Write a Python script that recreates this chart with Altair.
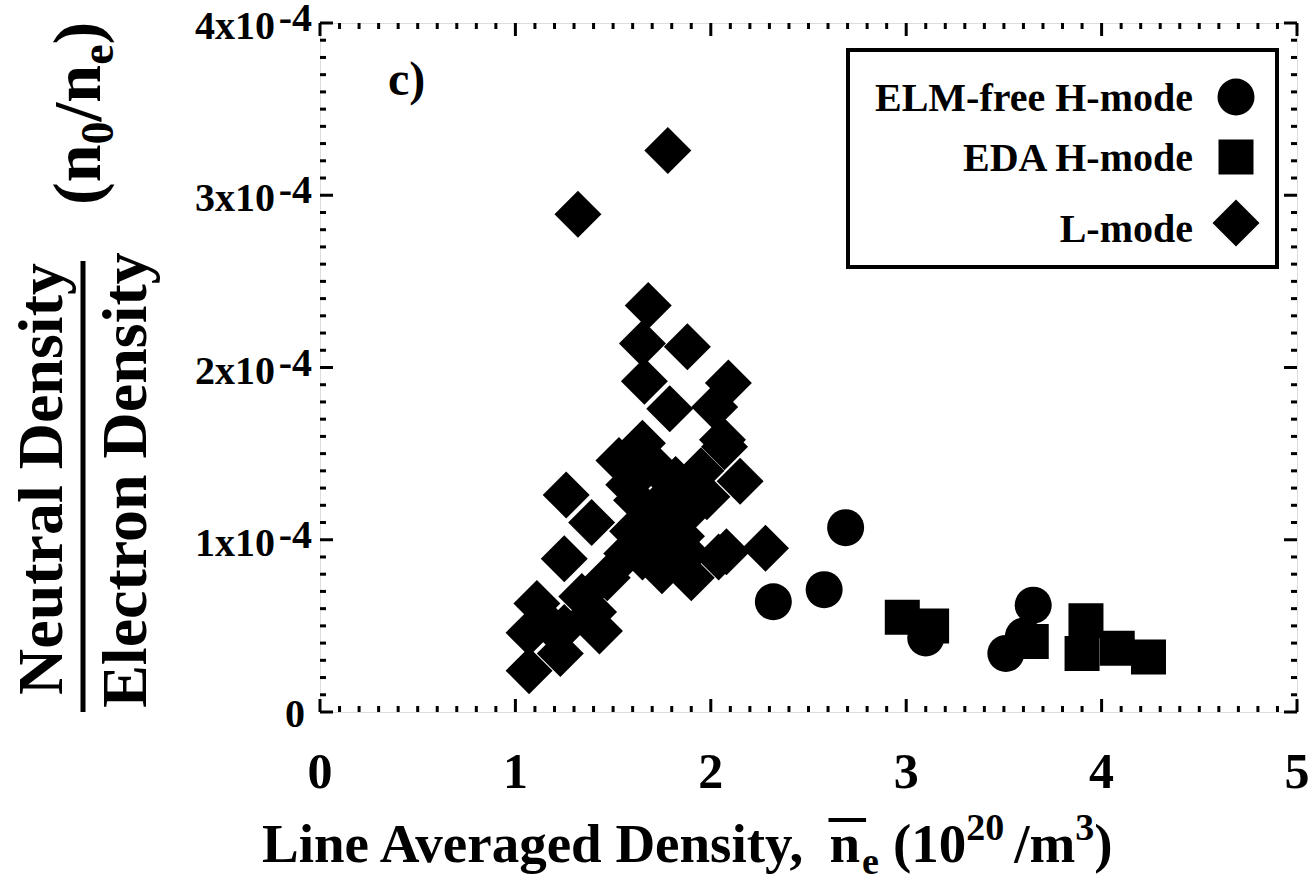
import altair as alt
import pandas as pd

FONT = "Liberation Serif"
W, H = 977, 689
X0, Y0 = 320, 23  # page offset of the plot area

# ---------------- data (y in units of 1e-4) ----------------
categories = ["ELM-free H-mode", "EDA H-mode", "L-mode"]
shapes = ["circle", "square", "diamond"]
sizes = [1369, 1225, 2209]

elm_x = [2.32, 2.58, 2.69, 3.10, 3.51, 3.60, 3.65]
elm_y = [0.64, 0.71, 1.07, 0.43, 0.34, 0.44, 0.62]

eda_x = [2.98, 3.13, 3.64, 3.90, 3.92, 4.08, 4.24]
eda_y = [0.55, 0.50, 0.41, 0.34, 0.53, 0.37, 0.32]

l_x = [1.32, 1.78, 1.68, 1.65, 1.88, 1.66, 2.09, 1.79, 2.02, 2.06, 1.65, 1.53,
       1.26, 1.39, 1.25, 1.11, 1.07, 1.07, 1.23, 1.25, 1.43, 1.34, 1.47, 1.57,
       1.62, 1.75, 1.90, 2.28, 2.08, 2.04, 2.15, 2.07, 1.65, 1.72, 1.80, 1.90,
       1.70, 1.85, 1.95, 1.75, 1.60, 1.40, 1.18, 1.98, 1.82, 1.92, 1.78, 1.68,
       1.88, 1.58]
l_y = [2.89, 3.26, 2.36, 2.14, 2.12, 1.92, 1.91, 1.76, 1.77, 1.58, 1.56, 1.46,
       1.26, 1.10, 0.89, 0.63, 0.46, 0.24, 0.34, 0.49, 0.47, 0.67, 0.78, 0.92,
       1.23, 0.82, 0.78, 0.95, 0.93, 0.90, 1.34, 1.54, 0.90, 1.42, 1.28, 1.18,
       1.10, 1.02, 1.40, 1.00, 1.05, 0.58, 0.50, 1.25, 1.35, 1.22, 1.18, 1.00,
       0.92, 1.32]

x_major = [0, 1, 2, 3, 4, 5]
x_tick_labels = ["0", "1", "2", "3", "4", "5"]
x_minor = [i / 10 for i in range(51) if i % 10]
y_major = [0, 1, 2, 3, 4]
y_minor = [i / 10 for i in range(41) if i % 10]
y_tick_base = ["0", "1x10", "2x10", "3x10", "4x10"]
y_tick_sup = ["", "-4", "-4", "-4", "-4"]

rows = []
for x, y in zip(l_x, l_y):
    rows.append({"x": x, "y": y, "mode": "L-mode"})
for x, y in zip(elm_x, elm_y):
    rows.append({"x": x, "y": y, "mode": "ELM-free H-mode"})
for x, y in zip(eda_x, eda_y):
    rows.append({"x": x, "y": y, "mode": "EDA H-mode"})
df = pd.DataFrame(rows)
df["order"] = range(len(df))

xs = alt.Scale(domain=[0, 5], nice=False, zero=False)
ys = alt.Scale(domain=[0, 4], nice=False, zero=False)

points = alt.Chart(df).mark_point(filled=True, color="black", opacity=1, strokeWidth=0).encode(
    x=alt.X("x:Q", scale=xs, axis=None),
    y=alt.Y("y:Q", scale=ys, axis=None),
    shape=alt.Shape("mode:N", scale=alt.Scale(domain=categories, range=shapes), legend=None),
    size=alt.Size("mode:N", scale=alt.Scale(type="ordinal", domain=categories, range=sizes), legend=None),
    order=alt.Order("order:Q"),
)

one = alt.Data(values=[{}])

def txt(text, x, y, size, **kw):
    return alt.Chart(one).mark_text(text=text, font=FONT, fontWeight="bold", fontSize=size,
                                    color="black", baseline="alphabetic", **kw).encode(
        x=alt.value(x), y=alt.value(y))

# ---------------- legend (drawn by hand, inside a framed box) ----------------
box = alt.Chart(one).mark_rect(fill="white", stroke="black", strokeWidth=4).encode(
    x=alt.value(848 - X0), x2=alt.value(1277 - X0), y=alt.value(50 - Y0), y2=alt.value(267 - Y0))
legend_layers = [box]
leg_text_y = [111, 171, 242]
leg_sym_y = [97, 157, 223]
for lab, shp, sz, ty, sy in zip(categories, shapes, sizes, leg_text_y, leg_sym_y):
    legend_layers.append(txt(lab, 1193 - X0, ty - Y0, 40, align="right"))
    legend_layers.append(
        alt.Chart(one).mark_point(filled=True, color="black", opacity=1, strokeWidth=0,
                                  shape=shp, size=sz).encode(
            x=alt.value(1236 - X0), y=alt.value(sy - Y0)))

# ---------------- inward ticks on all four sides ----------------
def xt(vals, y0, y1, sw):
    return alt.Chart(pd.DataFrame({"v": vals})).mark_rule(color="black", strokeWidth=sw).encode(
        x=alt.X("v:Q", scale=xs, axis=None), y=alt.value(y0), y2=alt.value(y1))

def yt(vals, x0, x1, sw):
    return alt.Chart(pd.DataFrame({"v": vals})).mark_rule(color="black", strokeWidth=sw).encode(
        y=alt.Y("v:Q", scale=ys, axis=None), x=alt.value(x0), x2=alt.value(x1))

MAJ, MIN = 13, 6
ticks = [
    xt(x_major, H, H - MAJ, 3), xt(x_minor, H, H - MIN, 3),
    xt(x_major, 0, MAJ, 3), xt(x_minor, 0, MIN, 3),
    yt(y_major, 0, MAJ, 3), yt(y_minor, 0, MIN, 3),
    yt(y_major, W, W - MAJ, 3), yt(y_minor, W, W - MIN, 3),
]

# ---------------- tick labels ----------------
xlab = pd.DataFrame({"v": x_major, "t": x_tick_labels})
xlab_layer = alt.Chart(xlab).mark_text(font=FONT, fontWeight="bold", fontSize=50, color="black",
                                       align="center", baseline="alphabetic").encode(
    x=alt.X("v:Q", scale=xs, axis=None), y=alt.value(788 - Y0), text="t:N")

ylab = pd.DataFrame({"v": y_major, "base": y_tick_base, "sup": y_tick_sup})
ylab_zero = alt.Chart(ylab[ylab["sup"] == ""]).mark_text(
    font=FONT, fontWeight="bold", fontSize=40, color="black", align="right", baseline="middle", dy=3).encode(
    y=alt.Y("v:Q", scale=ys, axis=None), x=alt.value(-15), text="base:N")
ylab_base = alt.Chart(ylab[ylab["sup"] != ""]).mark_text(
    font=FONT, fontWeight="bold", fontSize=40, color="black", align="right", baseline="middle", dy=4).encode(
    y=alt.Y("v:Q", scale=ys, axis=None), x=alt.value(-45), text="base:N")
ylab_sup = alt.Chart(ylab[ylab["sup"] != ""]).mark_text(
    font=FONT, fontWeight="bold", fontSize=40, color="black", align="right", baseline="middle", dy=-4).encode(
    y=alt.Y("v:Q", scale=ys, axis=None), x=alt.value(-8), text="sup:N")

TW = {'L': .667, 'i': .278, 'n': .556, 'e': .444, ' ': .25, 'A': .722, 'v': .5, 'r': .444,
      'a': .5, 'g': .5, 'd': .556, 'D': .722, 's': .389, 't': .333, 'y': .5, ',': .25,
      '(': .333, ')': .333, '1': .5, '0': .5, '2': .5, '/': .278, 'm': .833, '3': .5,
      'N': .722, 'u': .556, 'l': .278, 'E': .667, 'c': .444, 'o': .5}

def tw(s, size):
    return sum(TW[c] for c in s) * size

# ---------------- x title: Line Averaged Density,  n̄e (10^20 /m^3) ----------------
S, s = 55, 38
bx = 262 - X0
by = 862 - Y0
xt_layers = []
cur = bx
xt_layers.append(txt("Line Averaged Density,", cur, by, S, align="left"))
cur += tw("Line Averaged Density,", S) + 16
n_start = cur
xt_layers.append(txt("n", cur, by, S, align="left"))
cur += tw("n", S) + 2
n_end = cur
xt_layers.append(txt("e", cur, by + 12, s, align="left"))
cur += tw("e", s)
cur += 14
xt_layers.append(txt("(10", cur, by, S, align="left"))
cur += tw("(10", S)
xt_layers.append(txt("20", cur, by - 22, s, align="left"))
cur += tw("20", s) + 10
xt_layers.append(txt("/m", cur, by, S, align="left"))
cur += tw("/m", S)
xt_layers.append(txt("3", cur, by - 22, s, align="left"))
cur += tw("3", s)
xt_layers.append(txt(")", cur, by, S, align="left"))
overbar = alt.Chart(one).mark_rule(color="black", strokeWidth=4).encode(
    x=alt.value(n_start - 1), x2=alt.value(n_end + 4), y=alt.value(by - 42))

# ---------------- y title (rotated) ----------------
YT = 64
yt_layers = [
    txt("Neutral Density", 62 - X0, 479 - Y0, YT, angle=270, align="center"),
    txt("Electron Density", 146 - X0, 480 - Y0, YT, angle=270, align="center"),
]
fbar = alt.Chart(one).mark_rule(color="black", strokeWidth=5).encode(
    x=alt.value(83 - X0), y=alt.value(261 - Y0), y2=alt.value(H))

# (n0/ne): pieces advance upward along the rotated text direction
PS, ps = 68, 46
ax, ay = 100 - X0, 205 - Y0
pieces = [("(", PS, 0), ("n", PS, 0), ("0", ps, 13), ("/", PS, 0), ("n", PS, 0), ("e", ps, 13), (")", PS, 0)]
adv = 0
for t, sz, off in pieces:
    yt_layers.append(txt(t, ax, ay, sz, angle=270, align="left", dx=adv, dy=off))
    adv += tw(t, sz)

panel = txt("c)", 388 - X0, 95 - Y0, 48, align="left")

chart = alt.layer(
    *legend_layers, *ticks, points, xlab_layer, ylab_base, ylab_zero, ylab_sup,
    *xt_layers, overbar, *yt_layers, fbar, panel
).properties(
    width=W, height=H,
    padding={"left": X0, "top": Y0, "right": 17, "bottom": 165},
    autosize=alt.AutoSizeParams(type="none"),
).configure_view(stroke="black", strokeWidth=4).configure(background="white")

chart.save("out.html", embed_options={"renderer": "svg", "actions": False})
